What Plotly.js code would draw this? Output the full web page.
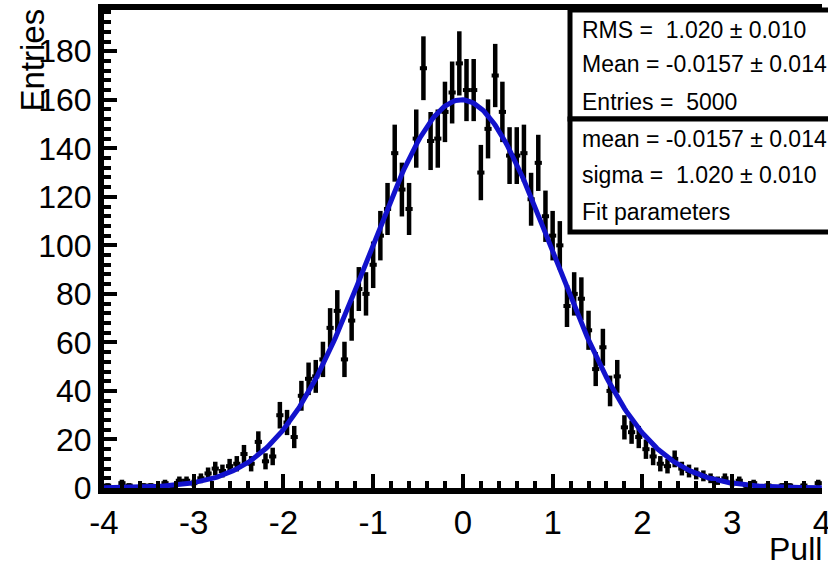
<!DOCTYPE html>
<html>
<head>
<meta charset="utf-8">
<script src="https://cdn.plot.ly/plotly-3.0.1.min.js"></script>
<style>
  html, body { margin: 0; padding: 0; background: #fff; }
  #chart { width: 828px; height: 570px; }
</style>
</head>
<body>
<div id="chart"></div>
<script>
// Pull distribution: 100 bins from -4 to 4 (bin width 0.08)
const binLow = -4;
const binWidth = 0.08;
const binCounts = [
  1, 0, 2, 1, 0, 1, 1, 0, 2, 1,
  3, 3, 2, 4, 6, 8, 7, 9, 10, 14,
  10, 19, 11, 13, 30, 27, 21, 38, 45, 46,
  53, 66, 73, 53, 69, 82, 80, 92, 104, 115,
  138, 123, 115, 144, 173, 143, 144, 155, 163, 175,
  164, 164, 130, 148, 170, 155, 137, 137, 138, 119,
  134, 112, 104, 100, 75, 80, 78, 65, 49, 58,
  40, 46, 25, 23, 21, 16, 13, 10, 9, 12,
  8, 7, 6, 5, 4, 3, 4, 2, 3, 1,
  2, 0, 1, 0, 1, 1, 0, 1, 0, 2
];

// Axis tick values and their labels (plain hyphen for negatives)
const xTickVals = [-4, -3, -2, -1, 0, 1, 2, 3, 4];
const xTickText = ['-4', '-3', '-2', '-1', '0', '1', '2', '3', '4'];
const yTickVals = [0, 20, 40, 60, 80, 100, 120, 140, 160, 180];
const yTickText = ['0', '20', '40', '60', '80', '100', '120', '140', '160', '180'];

// Gaussian fit result
const fitConstant = 160;
const fitMean = -0.0157;
const fitSigma = 1.020;

// Statistics box lines
const statLines = [
  'RMS =  1.020 \u00b1 0.010',
  'Mean = -0.0157 \u00b1 0.014',
  'Entries =  5000'
];
const fitLines = [
  'mean = -0.0157 \u00b1 0.014',
  'sigma =  1.020 \u00b1 0.010',
  'Fit parameters'
];

const binCenters = binCounts.map((_, i) => binLow + binWidth * (i + 0.5));
const binErrors = binCounts.map(n => Math.sqrt(n));

const fitX = [];
const fitY = [];
for (let k = 0; k <= 400; k++) {
  const x = -4 + 8 * k / 400;
  fitX.push(x);
  fitY.push(fitConstant * Math.exp(-0.5 * Math.pow((x - fitMean) / fitSigma, 2)));
}

// plot-area geometry in pixels, used to place the stats boxes
const L = 104, T = 10, W = 718, H = 478;
const px = v => (v - L) / W;
const py = v => (T + H - v) / H;

const FONT = 'Liberation Sans, Arial, Helvetica, sans-serif';

const histTrace = {
  type: 'scatter',
  mode: 'markers',
  x: binCenters,
  y: binCounts,
  marker: { size: 3, color: '#000' },
  error_y: { type: 'data', array: binErrors, visible: true, color: '#000', thickness: 4.5, width: 0 },
  error_x: { type: 'constant', value: binWidth / 2, visible: true, color: '#000', thickness: 4, width: 0 },
  hoverinfo: 'x+y',
  showlegend: false
};

const fitTrace = {
  type: 'scatter',
  mode: 'lines',
  x: fitX,
  y: fitY,
  line: { color: '#1212cc', width: 5 },
  hoverinfo: 'skip',
  showlegend: false
};

const annotations = [];
const statY = [30, 64, 102];
const fitYpos = [139, 175, 212];
statLines.forEach((t, i) => annotations.push({
  xref: 'paper', yref: 'paper', x: px(580), y: py(statY[i]),
  xanchor: 'left', yanchor: 'middle', text: t, showarrow: false,
  font: { family: FONT, size: 23, color: '#000' }
}));
fitLines.forEach((t, i) => annotations.push({
  xref: 'paper', yref: 'paper', x: px(580), y: py(fitYpos[i]),
  xanchor: 'left', yanchor: 'middle', text: t, showarrow: false,
  font: { family: FONT, size: 23, color: '#000' }
}));
annotations.push({
  xref: 'paper', yref: 'paper', x: px(32), y: py(7),
  xanchor: 'center', yanchor: 'top', textangle: -90, text: 'Entries', showarrow: false,
  font: { family: FONT, size: 33, color: '#000' }
});
annotations.push({
  xref: 'paper', yref: 'paper', x: px(824), y: py(569),
  xanchor: 'right', yanchor: 'bottom', text: 'Pull', showarrow: false,
  font: { family: FONT, size: 32, color: '#000' }
});

const shapes = [
  { type: 'rect', xref: 'paper', yref: 'paper', x0: px(570), x1: px(845), y0: py(10), y1: py(119),
    line: { color: '#000', width: 5 }, fillcolor: '#fff', layer: 'above' },
  { type: 'rect', xref: 'paper', yref: 'paper', x0: px(570), x1: px(845), y0: py(119), y1: py(232),
    line: { color: '#000', width: 5 }, fillcolor: '#fff', layer: 'above' }
];

const layout = {
  width: 828,
  height: 570,
  margin: { l: L, r: 828 - L - W, t: T, b: 570 - T - H, pad: 0 },
  paper_bgcolor: '#fff',
  plot_bgcolor: '#fff',
  showlegend: false,
  font: { family: FONT, color: '#000' },
  xaxis: {
    range: [-4, 4.002],
    tickmode: 'array',
    tickvals: xTickVals,
    ticktext: xTickText,
    ticklabeloverflow: 'allow',
    ticks: 'inside',
    ticklen: 14,
    tickwidth: 4,
    tickcolor: '#000',
    minor: { dtick: 0.2, tick0: 0, ticks: 'inside', ticklen: 7, tickwidth: 4, tickcolor: '#000' },
    showline: true,
    linewidth: 6,
    linecolor: '#000',
    mirror: true,
    showgrid: false,
    zeroline: false,
    tickfont: { family: FONT, size: 33, color: '#000' },
    fixedrange: true
  },
  yaxis: {
    range: [0, 197],
    tickmode: 'array',
    tickvals: yTickVals,
    ticktext: yTickText,
    ticks: 'inside',
    ticklen: 13,
    tickwidth: 4,
    tickcolor: '#000',
    minor: { dtick: 4, tick0: 0, ticks: 'inside', ticklen: 7, tickwidth: 4, tickcolor: '#000' },
    showline: true,
    linewidth: 6,
    linecolor: '#000',
    mirror: false,
    showgrid: false,
    zeroline: false,
    tickfont: { family: FONT, size: 32, color: '#000' },
    fixedrange: true
  },
  annotations: annotations,
  shapes: shapes
};

Plotly.newPlot('chart', [histTrace, fitTrace], layout, { staticPlot: true, displayModeBar: false });
</script>
</body>
</html>
